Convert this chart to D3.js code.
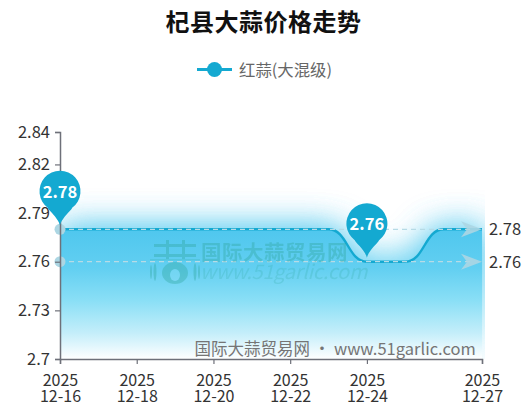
<!DOCTYPE html>
<html><head><meta charset="utf-8">
<script src="https://cdn.jsdelivr.net/npm/d3@7/dist/d3.min.js"></script>
<style>html,body{margin:0;padding:0;background:#fff}svg{display:block}text{font-family:"Noto Sans CJK SC","Noto Sans",sans-serif}</style>
</head><body><div id="c"></div>
<script>
const titleText = "杞县大蒜价格走势";
const seriesName = "红蒜(大混级)";
const categories = ["12-16","12-17","12-18","12-19","12-20","12-21","12-22","12-23","12-24","12-25","12-26","12-27"];
const values = [2.78,2.78,2.78,2.78,2.78,2.78,2.78,2.78,2.76,2.76,2.78,2.78];
const xTickLabels = ["12-16","12-18","12-20","12-22","12-24","12-27"];
const yearLabel = "2025";
const yTicks = [2.7,2.73,2.76,2.79,2.82,2.84];
const pinValues = [{cat:"12-16",value:2.78},{cat:"12-24",value:2.76}];
const refLines = [2.78,2.76];

const W=532,H=417,L=60,R=482,T=132,B=359;
const x=d3.scalePoint().domain(categories).range([L,R]);
const y=d3.scaleLinear().domain([2.7,2.84]).range([B,T]);
const blue="#14a9d1", axisC="#6e7079", txt="#333";
const svg=d3.select("#c").append("svg").attr("width",W).attr("height",H);
const defs=svg.append("defs");
const g=defs.append("linearGradient").attr("id","ag").attr("x1",0).attr("y1",0).attr("x2",0).attr("y2",1);
g.append("stop").attr("offset",0).attr("stop-color","#4fc7ee");
g.append("stop").attr("offset",.3).attr("stop-color","#62cff1");
g.append("stop").attr("offset",.55).attr("stop-color","#8adff6");
g.append("stop").attr("offset",.8).attr("stop-color","#c4eefa");
g.append("stop").attr("offset",1).attr("stop-color","#ffffff");
const f=defs.append("filter").attr("id","glow").attr("filterUnits","userSpaceOnUse")
 .attr("x",0).attr("y",120).attr("width",W).attr("height",280);
f.append("feGaussianBlur").attr("in","SourceGraphic").attr("stdDeviation",17);
defs.append("clipPath").attr("id","cp").append("rect").attr("x",L).attr("y",120).attr("width",R-L+3).attr("height",B-120);

svg.append("text").attr("x",263.5).attr("y",31).attr("text-anchor","middle").attr("font-size",24).attr("font-weight",700).attr("letter-spacing",.5).attr("fill","#111").text(titleText);
// legend
svg.append("line").attr("x1",197).attr("x2",232).attr("y1",69.5).attr("y2",69.5).attr("stroke",blue).attr("stroke-width",3);
svg.append("circle").attr("cx",214.5).attr("cy",69.5).attr("r",7.5).attr("fill",blue);
svg.append("text").attr("x",239).attr("y",75.5).attr("font-size",16.4).attr("fill","#666").text(seriesName);

const area=d3.area().x((d,i)=>x(categories[i])).y0(B).y1(d=>y(d)).curve(d3.curveBumpX);
const line=d3.line().x((d,i)=>x(categories[i])).y(d=>y(d)).curve(d3.curveBumpX);
const plot=svg.append("g").attr("clip-path","url(#cp)");
plot.append("path").datum(values).attr("d",area).attr("fill","url(#ag)").attr("filter","url(#glow)");
plot.append("path").datum(values).attr("d",area).attr("fill","url(#ag)").attr("filter","url(#glow)").attr("opacity",.6);
svg.append("path").datum(values).attr("d",area).attr("fill","url(#ag)");
svg.append("path").datum(values).attr("d",line).attr("fill","none").attr("stroke",blue).attr("stroke-width",2.4);

// reference lines
refLines.forEach(v=>{
  const yy=y(v);
  svg.append("line").attr("x1",L).attr("x2",R-12).attr("y1",yy).attr("y2",yy).attr("stroke","#b6dbe6").attr("stroke-width",1.3).attr("stroke-dasharray","5 4");
  svg.append("circle").attr("cx",L).attr("cy",yy).attr("r",5.5).attr("fill","#acd6e3");
  svg.append("path").attr("d",d3.line()([[R-21,yy-8],[R,yy],[R-21,yy+8],[R-15,yy]])).attr("fill","#acd6e3").attr("fill-opacity",.9);
  svg.append("text").attr("x",489).attr("y",yy+5.8).attr("font-size",16.5).attr("fill",txt).text(v);
});

// axes
const ya=svg.append("g").attr("transform",`translate(${L},0)`).call(d3.axisLeft(y).tickValues(yTicks).tickFormat(d=>d).tickSizeOuter(0).tickSize(5).tickPadding(5));
const xa=svg.append("g").attr("transform",`translate(0,${B})`).call(d3.axisBottom(x).tickValues(xTickLabels).tickSizeOuter(0).tickSize(5));
[ya,xa].forEach(a=>{a.select(".domain").attr("stroke",axisC).attr("stroke-width",1.5);a.selectAll("line").attr("stroke",axisC).attr("stroke-width",1.2);
 a.selectAll("text").attr("fill",txt).attr("font-size",16.5).attr("font-family",'"Noto Sans CJK SC"');});
xa.selectAll("text").each(function(d){const t=d3.select(this);t.text(null).attr("y",0).attr("dy",null);
 t.append("tspan").attr("x",0).attr("y",27).attr("font-size",16).text(yearLabel);
 t.append("tspan").attr("x",0).attr("y",43).attr("font-size",16).text(d);});

// pins
const r=20.5,cyOff=38;
pinValues.forEach(p=>{
  const px=x(p.cat),py=y(p.value),cy=py-cyOff;
  const a=.62;
  const sx=r*Math.sin(a),sy=r*Math.cos(a);
  const path=`M${px},${py-4}C${px-2},${py-12} ${px-sx-1},${cy+sy+1} ${px-sx},${cy+sy}A${r},${r} 0 1 1 ${px+sx},${cy+sy}C${px+sx+1},${cy+sy+1} ${px+2},${py-12} ${px},${py-4}Z`;
  svg.append("path").attr("d",path).attr("fill",blue);
  svg.append("text").attr("x",px).attr("y",cy+6.5).attr("text-anchor","middle").attr("font-size",16.5).attr("font-weight",700).attr("fill","#fff").text(p.value);
});

// watermarks
const wm=svg.append("g").attr("fill","#2ea69c").attr("opacity",.36);
wm.append("text").attr("x",201).attr("y",260).attr("font-size",20.5).attr("font-weight",700).attr("letter-spacing",.5).text("国际大蒜贸易网");
wm.append("text").attr("x",200).attr("y",279).attr("font-size",20).attr("font-style","italic").attr("opacity",.6).attr("font-family","'DejaVu Sans'").attr("letter-spacing",-.3).text("www.51garlic.com");
const logo=wm.append("g");
logo.append("rect").attr("x",154).attr("y",244).attr("width",42).attr("height",3);
logo.append("rect").attr("x",154).attr("y",254).attr("width",42).attr("height",3);
logo.append("rect").attr("x",150).attr("y",259).attr("width",50).attr("height",1.5).attr("opacity",.6);
[166,182].forEach(v=>logo.append("rect").attr("x",v).attr("y",240).attr("width",3).attr("height",19));
[[175,273,13,11],[155,272,1.5,9],[195,272,1.5,9],[151,272,1,7],[199,272,1,7]].forEach(b=>logo.append("ellipse").attr("cx",b[0]).attr("cy",b[1]).attr("rx",b[2]).attr("ry",b[3]));
logo.append("ellipse").attr("cx",175).attr("cy",275).attr("rx",5).attr("ry",6).attr("fill","#8adff6");
svg.append("text").attr("x",194.5).attr("y",355).attr("font-size",16.5).attr("fill","#757575").text("国际大蒜贸易网 · www.51garlic.com");
</script></body></html>
